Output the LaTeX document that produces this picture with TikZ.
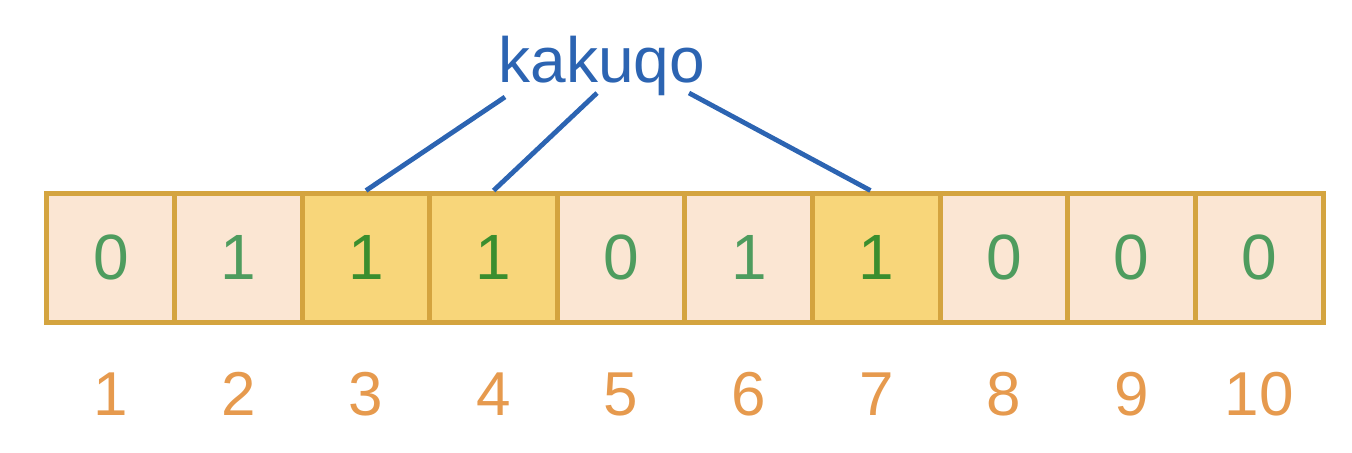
\documentclass[tikz,border=0pt]{standalone}
\usepackage{fontspec}
\setmainfont{Liberation Sans}
\definecolor{cellfill}{HTML}{FBE6D3}
\definecolor{hifill}{HTML}{F8D67A}
\definecolor{cellline}{HTML}{D4A43F}
\definecolor{dgreen}{HTML}{4E9C5E}
\definecolor{hgreen}{HTML}{3A8E2E}
\definecolor{lblorange}{HTML}{E69A4E}
\definecolor{kblue}{HTML}{2C64B2}
\tikzset{
  cellbox/.style={draw=cellline, line width=2.5pt, fill=cellfill, minimum width=64pt, minimum height=64.5pt, inner sep=0pt, text=dgreen, font=\fontsize{32}{36}\selectfont},
  hicell/.style={cellbox, fill=hifill, text=hgreen},
  idxlabel/.style={text=lblorange, font=\fontsize{31}{36}\selectfont, inner sep=0pt},
  link/.style={draw=kblue, line width=2.4pt},
}
\begin{document}
\begin{tikzpicture}[x=0.5pt,y=-0.5pt]
\useasboundingbox (0,0) rectangle (1352,452);
\foreach \i/\v/\s in {1/0/cellbox,2/1/cellbox,3/1/hicell,4/1/hicell,5/0/cellbox,6/1/cellbox,7/1/hicell,8/0/cellbox,9/0/cellbox,10/0/cellbox}{
  \node[\s] (c\i) at ({47+127.6*(\i-0.5)},257.5) {\v};
  \node[idxlabel] (l\i) at ({47+127.6*(\i-0.5)},394) {\i};
}
\node[text=kblue, font=\fontsize{32}{36}\selectfont, inner sep=0pt, anchor=base] (k) at (602,82) {kakuqo};
\coordinate (k1) at (505,97);
\coordinate (k2) at (597,93);
\coordinate (k3) at (689,93);
\draw[link] (k1) -- (c3.north);
\draw[link] (k2) -- (c4.north);
\draw[link] (k3) -- ([xshift=-3pt]c7.north);
\end{tikzpicture}
\end{document}
